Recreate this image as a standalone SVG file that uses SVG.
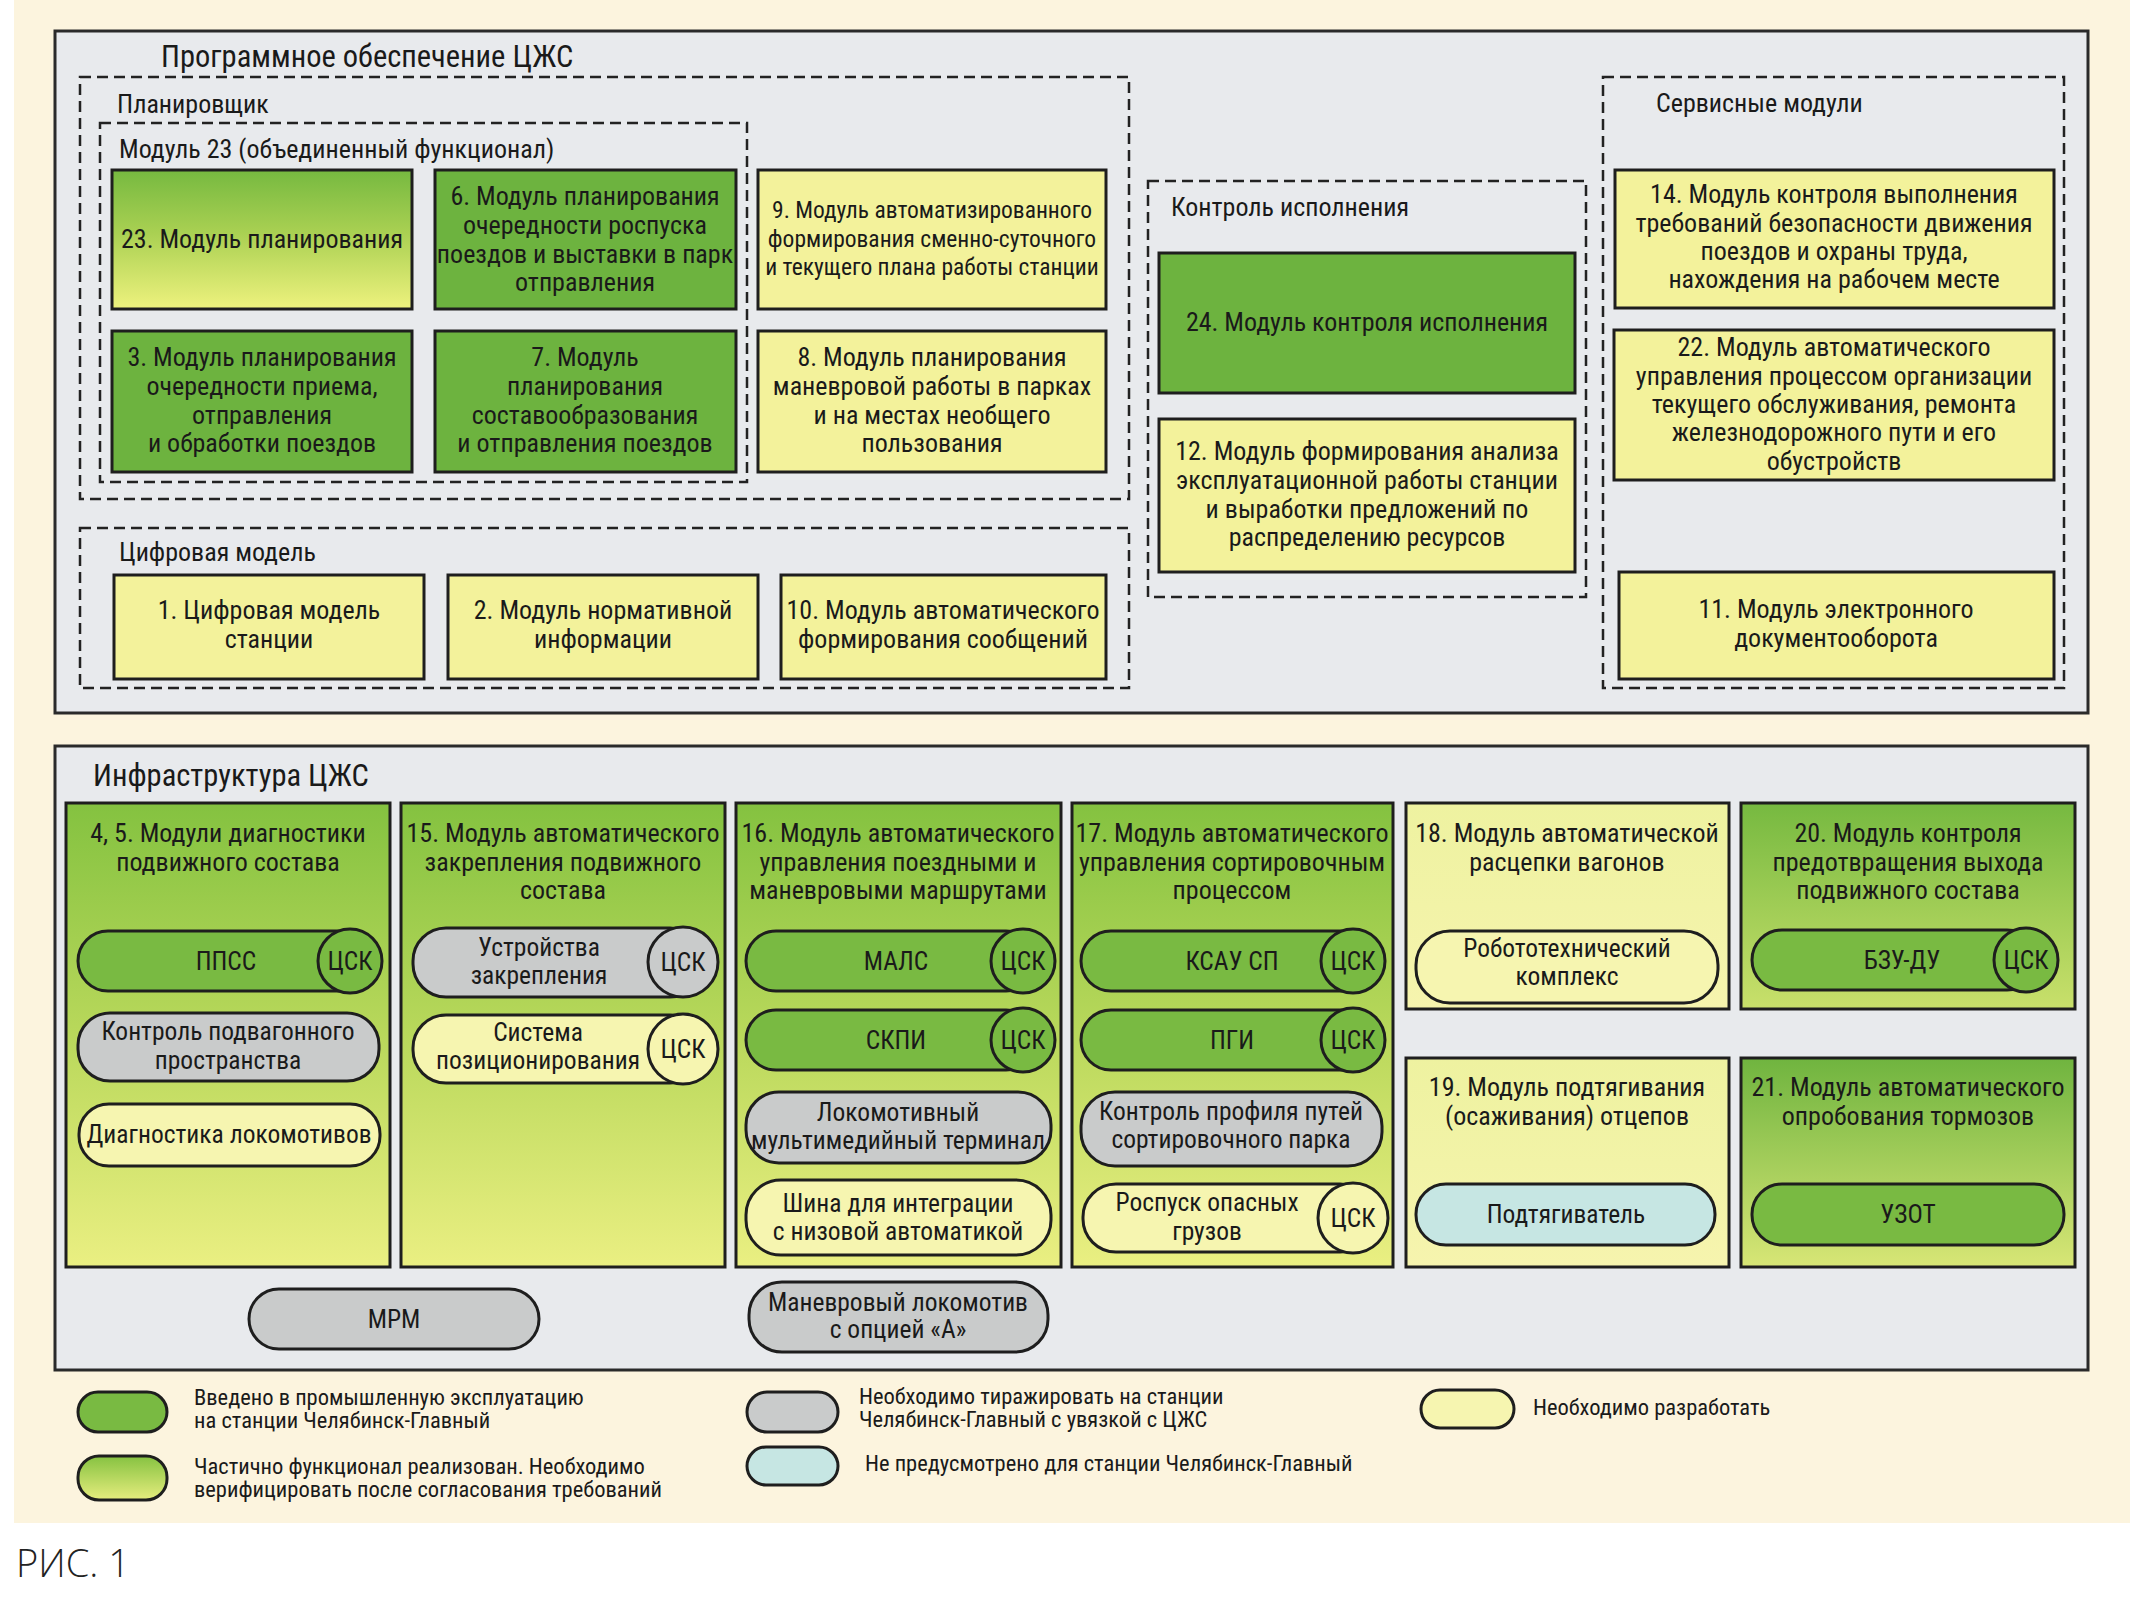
<svg xmlns="http://www.w3.org/2000/svg" width="2146" height="1608" viewBox="0 0 2146 1608">
<defs>
<linearGradient id="gCol" x1="0" y1="0" x2="0" y2="1"><stop offset="0" stop-color="#84c240"/><stop offset="0.5" stop-color="#b9d85b"/><stop offset="1" stop-color="#eaef82"/></linearGradient>
<linearGradient id="gB23" x1="0" y1="0" x2="0" y2="1"><stop offset="0" stop-color="#76b940"/><stop offset="0.45" stop-color="#a9d052"/><stop offset="1" stop-color="#eef27e"/></linearGradient>
<linearGradient id="gYel" x1="0" y1="0" x2="0" y2="1"><stop offset="0" stop-color="#eef2a0"/><stop offset="1" stop-color="#f6f4ae"/></linearGradient>
<linearGradient id="g20" x1="0" y1="0" x2="0" y2="1"><stop offset="0" stop-color="#76b940"/><stop offset="1" stop-color="#c9e06b"/></linearGradient>
<linearGradient id="g21" x1="0" y1="0" x2="0" y2="1"><stop offset="0" stop-color="#6fb43f"/><stop offset="1" stop-color="#d8e676"/></linearGradient>
<linearGradient id="gLeg" x1="0" y1="0" x2="0" y2="1"><stop offset="0" stop-color="#86c241"/><stop offset="1" stop-color="#e6ed7e"/></linearGradient>
</defs>
<style>
.box{stroke:#1e1e1e;stroke-width:3}
.green{fill:#6db33f}
.yellow{fill:#f3f29b}
.dash{fill:none;stroke:#222;stroke-width:2.5;stroke-dasharray:11 6}
.outer{fill:#e8eaed;stroke:#2a2a2a;stroke-width:3}
.pill{stroke:#1e1e1e;stroke-width:3}
.pg{fill:#79ba42}
.pgray{fill:#c9cbcb}
.py{fill:#f6f5b0}
.pc{fill:#c6e6e3}
text{font-family:"Liberation Sans Narrow","Arial Narrow","Roboto Condensed","Liberation Sans",sans-serif;fill:#1a1a1a}
.c{text-anchor:middle;font-size:26px}
.p{font-size:25.5px}
.s{font-size:23.5px}
.lbl{font-size:26px}
.ttl{font-size:30.5px}
.lg{font-size:22.5px}
.fig{font-family:"Open Sans","Liberation Sans",sans-serif;font-weight:300;font-size:38px;fill:#222}
</style>
<rect x="14" y="0" width="2116" height="1523" fill="#fcf4de"/>
<rect x="0" y="1523" width="2146" height="85" fill="#ffffff"/>

<g id="software">
<rect class="outer" x="55" y="31" width="2033" height="682"/>
<text class="ttl" x="161" y="67">Программное обеспечение ЦЖС</text>
</g>

<g id="planner">
<rect class="dash" x="80" y="77" width="1049" height="422"/>
<text class="lbl" x="117" y="113">Планировщик</text>
</g>
<g id="module23group">
<rect class="dash" x="100" y="123" width="647" height="359"/>
<text class="lbl" x="119" y="158">Модуль 23 (объединенный функционал)</text>
</g>

<g id="n23"><rect class="box" x="112" y="170" width="300" height="139" fill="url(#gB23)"/>
<text class="c" x="262" y="248">23. Модуль планирования</text></g>
<g id="n6"><rect class="box green" x="435" y="170" width="301" height="139"/>
<text class="c" x="585"><tspan x="585" y="205">6. Модуль планирования</tspan><tspan x="585" y="234">очередности роспуска</tspan><tspan x="585" y="263">поездов и выставки в парк</tspan><tspan x="585" y="291">отправления</tspan></text></g>
<g id="n9"><rect class="box yellow" x="758" y="170" width="348" height="139"/>
<text class="c s" x="932"><tspan x="932" y="218">9. Модуль автоматизированного</tspan><tspan x="932" y="247">формирования сменно-суточного</tspan><tspan x="932" y="275">и текущего плана работы станции</tspan></text></g>
<g id="n3"><rect class="box green" x="112" y="331" width="300" height="141"/>
<text class="c" x="262"><tspan x="262" y="366">3. Модуль планирования</tspan><tspan x="262" y="395">очередности приема,</tspan><tspan x="262" y="424">отправления</tspan><tspan x="262" y="452">и обработки поездов</tspan></text></g>
<g id="n7"><rect class="box green" x="435" y="331" width="301" height="141"/>
<text class="c" x="585"><tspan x="585" y="366">7. Модуль</tspan><tspan x="585" y="395">планирования</tspan><tspan x="585" y="424">составообразования</tspan><tspan x="585" y="452">и отправления поездов</tspan></text></g>
<g id="n8"><rect class="box yellow" x="758" y="331" width="348" height="141"/>
<text class="c" x="932"><tspan x="932" y="366">8. Модуль планирования</tspan><tspan x="932" y="395">маневровой работы в парках</tspan><tspan x="932" y="424">и на местах необщего</tspan><tspan x="932" y="452">пользования</tspan></text></g>

<g id="digital">
<rect class="dash" x="80" y="528" width="1049" height="160"/>
<text class="lbl" x="119" y="561">Цифровая модель</text>
</g>
<g id="n1"><rect class="box yellow" x="114" y="575" width="310" height="104"/>
<text class="c" x="269"><tspan x="269" y="619">1. Цифровая модель</tspan><tspan x="269" y="648">станции</tspan></text></g>
<g id="n2"><rect class="box yellow" x="448" y="575" width="310" height="104"/>
<text class="c" x="603"><tspan x="603" y="619">2. Модуль нормативной</tspan><tspan x="603" y="648">информации</tspan></text></g>
<g id="n10"><rect class="box yellow" x="781" y="575" width="325" height="104"/>
<text class="c" x="943"><tspan x="943" y="619">10. Модуль автоматического</tspan><tspan x="943" y="648">формирования сообщений</tspan></text></g>

<g id="control">
<rect class="dash" x="1148" y="181" width="438" height="416"/>
<text class="lbl" x="1171" y="216">Контроль исполнения</text>
</g>
<g id="n24"><rect class="box green" x="1159" y="253" width="416" height="140"/>
<text class="c" x="1367" y="331">24. Модуль контроля исполнения</text></g>
<g id="n12"><rect class="box yellow" x="1159" y="419" width="416" height="153"/>
<text class="c" x="1367"><tspan x="1367" y="460">12. Модуль формирования анализа</tspan><tspan x="1367" y="489">эксплуатационной работы станции</tspan><tspan x="1367" y="518">и выработки предложений по</tspan><tspan x="1367" y="546">распределению ресурсов</tspan></text></g>

<g id="service">
<rect class="dash" x="1603" y="77" width="461" height="611"/>
<text class="lbl" x="1656" y="112">Сервисные модули</text>
</g>
<g id="n14"><rect class="box yellow" x="1615" y="170" width="439" height="138"/>
<text class="c" x="1834"><tspan x="1834" y="203">14. Модуль контроля выполнения</tspan><tspan x="1834" y="232">требований безопасности движения</tspan><tspan x="1834" y="260">поездов и охраны труда,</tspan><tspan x="1834" y="288">нахождения на рабочем месте</tspan></text></g>
<g id="n22"><rect class="box yellow" x="1614" y="330" width="440" height="150"/>
<text class="c" x="1834"><tspan x="1834" y="356">22. Модуль автоматического</tspan><tspan x="1834" y="385">управления процессом организации</tspan><tspan x="1834" y="413">текущего обслуживания, ремонта</tspan><tspan x="1834" y="441">железнодорожного пути и его</tspan><tspan x="1834" y="470">обустройств</tspan></text></g>
<g id="n11"><rect class="box yellow" x="1619" y="572" width="435" height="107"/>
<text class="c" x="1836"><tspan x="1836" y="618">11. Модуль электронного</tspan><tspan x="1836" y="647">документооборота</tspan></text></g>

<g id="infra">
<rect class="outer" x="55" y="746" width="2033" height="624"/>
<text class="ttl" x="93" y="786">Инфраструктура ЦЖС</text>
</g>

<g id="c45">
<rect class="box" x="66" y="803" width="324" height="464" fill="url(#gCol)"/>
<text class="c" x="228"><tspan x="228" y="842">4, 5. Модули диагностики</tspan><tspan x="228" y="871">подвижного состава</tspan></text>
<g id="ppss"><rect class="pill pg" x="78" y="931" width="290" height="60" rx="30"/><circle class="pill pg" cx="350" cy="961" r="32"/>
<text class="c p" x="226" y="970">ППСС</text><text class="c p" x="350" y="970">ЦСК</text></g>
<g id="kpp"><rect class="pill pgray" x="78" y="1013" width="301" height="68" rx="32"/>
<text class="c p" x="228"><tspan x="228" y="1040">Контроль подвагонного</tspan><tspan x="228" y="1069">пространства</tspan></text></g>
<g id="diag"><rect class="pill py" x="79" y="1104" width="301" height="62" rx="30"/>
<text class="c p" x="229" y="1143">Диагностика локомотивов</text></g>
</g>

<g id="c15">
<rect class="box" x="401" y="803" width="324" height="464" fill="url(#gCol)"/>
<text class="c" x="563"><tspan x="563" y="842">15. Модуль автоматического</tspan><tspan x="563" y="871">закрепления подвижного</tspan><tspan x="563" y="899">состава</tspan></text>
<g id="uz"><rect class="pill pgray" x="413" y="928" width="290" height="69" rx="33"/><circle class="pill pgray" cx="683" cy="962" r="35"/>
<text class="c p" x="539"><tspan x="539" y="956">Устройства</tspan><tspan x="539" y="984">закрепления</tspan></text><text class="c p" x="683" y="971">ЦСК</text></g>
<g id="sp"><rect class="pill py" x="413" y="1015" width="290" height="68" rx="33"/><circle class="pill py" cx="683" cy="1049" r="35"/>
<text class="c p" x="538"><tspan x="538" y="1041">Система</tspan><tspan x="538" y="1069">позиционирования</tspan></text><text class="c p" x="683" y="1058">ЦСК</text></g>
</g>

<g id="c16">
<rect class="box" x="736" y="803" width="325" height="464" fill="url(#gCol)"/>
<text class="c" x="898"><tspan x="898" y="842">16. Модуль автоматического</tspan><tspan x="898" y="871">управления поездными и</tspan><tspan x="898" y="899">маневровыми маршрутами</tspan></text>
<g id="mals"><rect class="pill pg" x="746" y="931" width="290" height="60" rx="30"/><circle class="pill pg" cx="1023" cy="961" r="32"/>
<text class="c p" x="896" y="970">МАЛС</text><text class="c p" x="1023" y="970">ЦСК</text></g>
<g id="skpi"><rect class="pill pg" x="746" y="1010" width="290" height="60" rx="30"/><circle class="pill pg" cx="1023" cy="1040" r="32"/>
<text class="c p" x="896" y="1049">СКПИ</text><text class="c p" x="1023" y="1049">ЦСК</text></g>
<g id="lmt"><rect class="pill pgray" x="746" y="1092" width="305" height="71" rx="33"/>
<text class="c p" x="898"><tspan x="898" y="1121">Локомотивный</tspan><tspan x="898" y="1149">мультимедийный терминал</tspan></text></g>
<g id="shina"><rect class="pill py" x="746" y="1180" width="305" height="75" rx="35"/>
<text class="c p" x="898"><tspan x="898" y="1212">Шина для интеграции</tspan><tspan x="898" y="1240">с низовой автоматикой</tspan></text></g>
</g>

<g id="c17">
<rect class="box" x="1072" y="803" width="321" height="464" fill="url(#gCol)"/>
<text class="c" x="1232"><tspan x="1232" y="842">17. Модуль автоматического</tspan><tspan x="1232" y="871">управления сортировочным</tspan><tspan x="1232" y="899">процессом</tspan></text>
<g id="ksau"><rect class="pill pg" x="1081" y="931" width="290" height="60" rx="30"/><circle class="pill pg" cx="1353" cy="961" r="32"/>
<text class="c p" x="1232" y="970">КСАУ СП</text><text class="c p" x="1353" y="970">ЦСК</text></g>
<g id="pgi"><rect class="pill pg" x="1081" y="1010" width="290" height="60" rx="30"/><circle class="pill pg" cx="1353" cy="1040" r="32"/>
<text class="c p" x="1232" y="1049">ПГИ</text><text class="c p" x="1353" y="1049">ЦСК</text></g>
<g id="kpr"><rect class="pill pgray" x="1081" y="1092" width="301" height="74" rx="34"/>
<text class="c p" x="1231"><tspan x="1231" y="1120">Контроль профиля путей</tspan><tspan x="1231" y="1148">сортировочного парка</tspan></text></g>
<g id="rog"><rect class="pill py" x="1083" y="1184" width="290" height="68" rx="33"/><circle class="pill py" cx="1353" cy="1218" r="35"/>
<text class="c p" x="1207"><tspan x="1207" y="1211">Роспуск опасных</tspan><tspan x="1207" y="1240">грузов</tspan></text><text class="c p" x="1353" y="1227">ЦСК</text></g>
</g>

<g id="c18">
<rect class="box" x="1406" y="803" width="323" height="206" fill="url(#gYel)"/>
<text class="c" x="1567"><tspan x="1567" y="842">18. Модуль автоматической</tspan><tspan x="1567" y="871">расцепки вагонов</tspan></text>
<g id="robot"><rect class="pill py" x="1416" y="931" width="302" height="72" rx="34"/>
<text class="c p" x="1567"><tspan x="1567" y="957">Робототехнический</tspan><tspan x="1567" y="985">комплекс</tspan></text></g>
</g>

<g id="c20">
<rect class="box" x="1741" y="803" width="334" height="206" fill="url(#g20)"/>
<text class="c" x="1908"><tspan x="1908" y="842">20. Модуль контроля</tspan><tspan x="1908" y="871">предотвращения выхода</tspan><tspan x="1908" y="899">подвижного состава</tspan></text>
<g id="bzu"><rect class="pill pg" x="1752" y="930" width="285" height="60" rx="30"/><circle class="pill pg" cx="2026" cy="960" r="32"/>
<text class="c p" x="1902" y="969">БЗУ-ДУ</text><text class="c p" x="2026" y="969">ЦСК</text></g>
</g>

<g id="c19">
<rect class="box" x="1406" y="1058" width="323" height="209" fill="url(#gYel)"/>
<text class="c" x="1567"><tspan x="1567" y="1096">19. Модуль подтягивания</tspan><tspan x="1567" y="1125">(осаживания) отцепов</tspan></text>
<g id="podt"><rect class="pill pc" x="1416" y="1184" width="299" height="61" rx="30"/>
<text class="c p" x="1566" y="1223">Подтягиватель</text></g>
</g>

<g id="c21">
<rect class="box" x="1741" y="1058" width="334" height="209" fill="url(#g21)"/>
<text class="c" x="1908"><tspan x="1908" y="1096">21. Модуль автоматического</tspan><tspan x="1908" y="1125">опробования тормозов</tspan></text>
<g id="uzot"><rect class="pill pg" x="1752" y="1184" width="312" height="61" rx="30"/>
<text class="c p" x="1908" y="1223">УЗОТ</text></g>
</g>

<g id="mrm"><rect class="pill pgray" x="249" y="1289" width="290" height="60" rx="30"/>
<text class="c p" x="394" y="1328">МРМ</text></g>
<g id="manloco"><rect class="pill pgray" x="749" y="1282" width="299" height="70" rx="33"/>
<text class="c p" x="898"><tspan x="898" y="1311">Маневровый локомотив</tspan><tspan x="898" y="1338">с опцией «А»</tspan></text></g>

<g id="connectors"></g>

<g id="legend">
<rect class="pill pg" x="78" y="1392" width="89" height="40" rx="20"/>
<text class="lg"><tspan x="194" y="1405">Введено в промышленную эксплуатацию</tspan><tspan x="194" y="1428">на станции Челябинск-Главный</tspan></text>
<rect class="pill" x="78" y="1456" width="89" height="44" rx="21" fill="url(#gLeg)"/>
<text class="lg"><tspan x="194" y="1474">Частично функционал реализован. Необходимо</tspan><tspan x="194" y="1497">верифицировать после согласования требований</tspan></text>
<rect class="pill pgray" x="747" y="1392" width="91" height="40" rx="20"/>
<text class="lg"><tspan x="859" y="1404">Необходимо тиражировать на станции</tspan><tspan x="859" y="1427">Челябинск-Главный с увязкой с ЦЖС</tspan></text>
<rect class="pill pc" x="747" y="1447" width="91" height="38" rx="19"/>
<text class="lg" x="865" y="1471">Не предусмотрено для станции Челябинск-Главный</text>
<rect class="pill py" x="1421" y="1390" width="93" height="38" rx="19"/>
<text class="lg" x="1533" y="1415">Необходимо разработать</text>
</g>

<text class="fig" x="16" y="1577">РИС. 1</text>
</svg>
